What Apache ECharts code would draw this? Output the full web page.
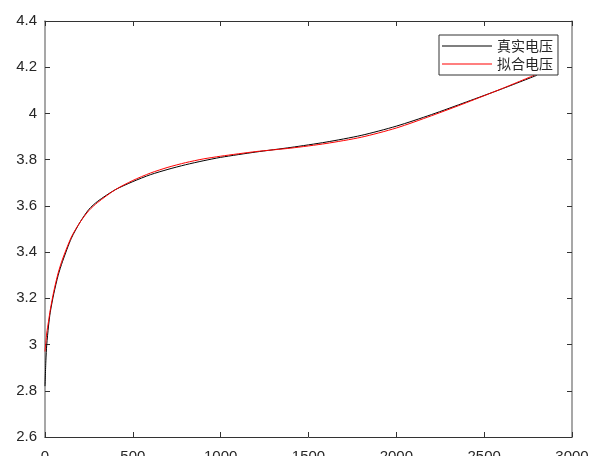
<!DOCTYPE html>
<html>
<head>
<meta charset="utf-8">
<script src="https://cdn.jsdelivr.net/npm/echarts@6/dist/echarts.min.js"></script>
<style>
html,body{margin:0;padding:0;background:#fff;}
#chart{width:600px;height:456px;}
</style>
</head>
<body>
<div id="chart"></div>
<script>
var seriesNames = ['真实电压', '拟合电压'];
var xs =    [0,    5,    10,   20,   30,   50,   75,   100,  150,   200,  250,   300,   400,  500,   600,   700,   800,   900,   1000,  1200,  1400,  1600,  1800,  2000,  2200,  2400,  2600,  2800];
var realV = [2.82, 2.93, 3.00, 3.08, 3.14, 3.22, 3.30, 3.36, 3.46,  3.53, 3.585, 3.62,  3.67, 3.705, 3.735, 3.758, 3.778, 3.795, 3.81,  3.833, 3.853, 3.876, 3.905, 3.945, 3.995, 4.05,  4.106, 4.165];
var fitV =  [2.97, 3.01, 3.05, 3.10, 3.15, 3.23, 3.31, 3.37, 3.465, 3.53, 3.58,  3.615, 3.67, 3.71,  3.742, 3.767, 3.787, 3.803, 3.815, 3.835, 3.85,  3.87,  3.897, 3.937, 3.99,  4.047, 4.107, 4.17];
var xTicks = {min: 0, max: 3000, interval: 500};
var yTicks = {min: 2.6, max: 4.4, interval: 0.2};

function zip(a, b) { return a.map(function (v, i) { return [v, b[i]]; }); }

var chart = echarts.init(document.getElementById('chart'), null, {renderer: 'canvas'});
var labelFont = {color: '#262626', fontSize: 15, fontFamily: 'Liberation Sans, Arial, sans-serif'};
var plain = function (v) { return String(Math.round(v * 100) / 100); };
chart.setOption({
  animation: false,
  backgroundColor: '#fff',
  grid: {left: 45, right: 28, top: 21, bottom: 19, containLabel: false, outerBoundsMode: 'none'},
  legend: {
    data: [{name: seriesNames[0], icon: 'rect'}, {name: seriesNames[1], icon: 'rect'}],
    orient: 'vertical',
    left: 439, top: 35,
    itemWidth: 50, itemHeight: 1.2, itemGap: 2,
    padding: [3, 5, 3, 3],
    backgroundColor: '#fff',
    borderColor: '#333', borderWidth: 1,
    textStyle: {color: '#262626', fontSize: 14, lineHeight: 16, fontFamily: 'Noto Sans CJK SC', padding: [0, 0, 0, 0]}
  },
  xAxis: [{
    type: 'value', min: xTicks.min, max: xTicks.max, interval: xTicks.interval,
    position: 'bottom',
    axisLine: {show: true, onZero: false, lineStyle: {color: '#333', width: 1}},
    axisTick: {show: true, inside: true, length: 5, lineStyle: {color: '#333'}},
    axisLabel: Object.assign({margin: 12, formatter: plain}, labelFont),
    splitLine: {show: false}
  }, {
    type: 'value', min: xTicks.min, max: xTicks.max, interval: xTicks.interval,
    position: 'top',
    axisLine: {show: true, onZero: false, lineStyle: {color: '#333', width: 1}},
    axisTick: {show: true, inside: true, length: 5, lineStyle: {color: '#333'}},
    axisLabel: {show: false},
    splitLine: {show: false}
  }],
  yAxis: [{
    type: 'value', min: yTicks.min, max: yTicks.max, interval: yTicks.interval,
    position: 'left',
    axisLine: {show: true, onZero: false, lineStyle: {color: '#8a8a8a', width: 1.5}},
    axisTick: {show: true, inside: true, length: 5, lineStyle: {color: '#333'}},
    axisLabel: Object.assign({margin: 8, formatter: plain}, labelFont),
    splitLine: {show: false}
  }, {
    type: 'value', min: yTicks.min, max: yTicks.max, interval: yTicks.interval,
    position: 'right',
    axisLine: {show: true, onZero: false, lineStyle: {color: '#8a8a8a', width: 1.5}},
    axisTick: {show: true, inside: true, length: 5, lineStyle: {color: '#333'}},
    axisLabel: {show: false},
    splitLine: {show: false}
  }],
  series: [{
    name: seriesNames[0], type: 'line', xAxisIndex: 0, yAxisIndex: 0,
    data: zip(xs, realV), symbol: 'none', smooth: 0.25,
    lineStyle: {color: '#000', width: 1}, itemStyle: {color: '#000'}, z: 2
  }, {
    name: seriesNames[1], type: 'line', xAxisIndex: 0, yAxisIndex: 0,
    data: zip(xs, fitV), symbol: 'none', smooth: 0.25,
    lineStyle: {color: '#ff0000', width: 1}, itemStyle: {color: '#ff0000'}, z: 3
  }]
});
</script>
</body>
</html>
